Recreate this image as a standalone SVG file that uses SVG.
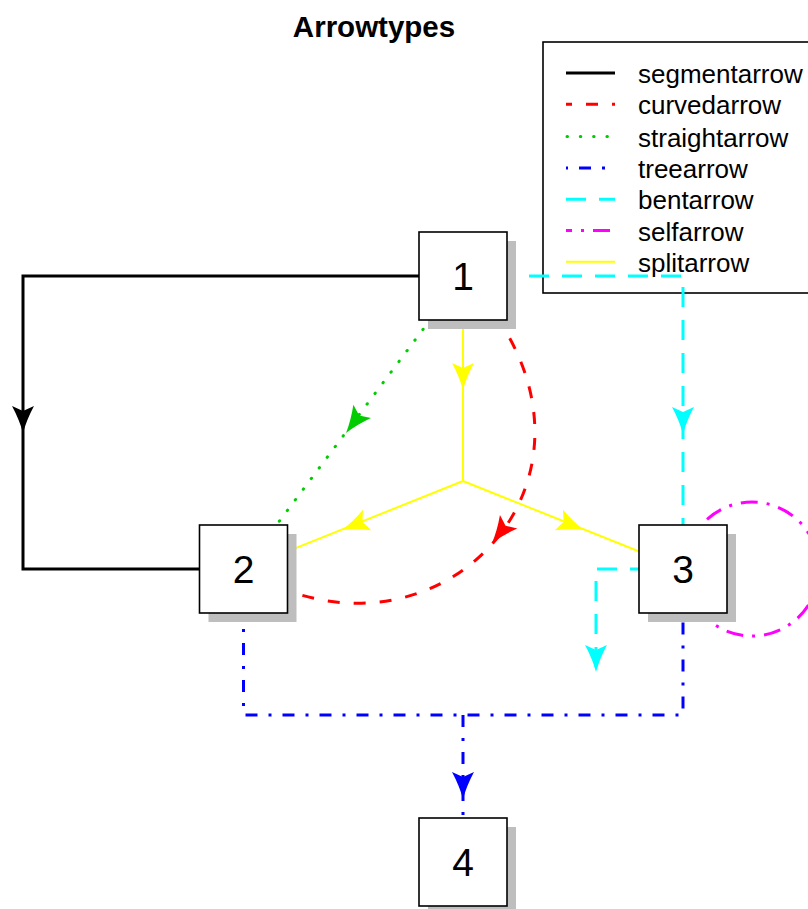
<svg xmlns="http://www.w3.org/2000/svg" xmlns:xlink="http://www.w3.org/1999/xlink" width="808" height="909" viewBox="0 0 808 909">
<style>
  .title { font-family: "Liberation Sans", Arial, sans-serif; font-size: 29.5px; font-weight: bold; fill: #000; }
  .leg { font-family: "Liberation Sans", Arial, sans-serif; font-size: 26px; fill: #000; }
  .lab { font-family: "Liberation Sans", Arial, sans-serif; font-size: 39px; fill: #000; text-anchor: middle; }
  .box { fill: #fff; stroke: #000; stroke-width: 1.6; }
  .shadow { fill: #bebebe; stroke: none; }
  .c { fill: none; }
  .seg { stroke: #000; stroke-width: 3; }
  .curv { stroke: #ff0000; stroke-width: 3; stroke-dasharray: 12 14; }
  .str { stroke: #00cc00; stroke-width: 3; stroke-dasharray: 0.5 12.8; stroke-linecap: round; }
  .tree { stroke: #0000ff; stroke-width: 3; stroke-dasharray: 12 11 3 11; }
  .bent { stroke: #00ffff; stroke-width: 3; stroke-dasharray: 20 13; }
  .self { stroke: #ff00ff; stroke-width: 3; stroke-dasharray: 17 9 3 9; }
  .split { stroke: #ffff00; stroke-width: 2; }
</style>
<defs>
  <path id="ah" d="M0,0 Q-13,-3.5 -27,-11 L-22,0 L-27,11 Q-13,3.5 0,0 Z"/>
</defs>

<text class="title" x="374" y="37" text-anchor="middle">Arrowtypes</text>

<g id="legend">
  <rect x="543" y="42" width="280" height="251" fill="#fff" stroke="#000" stroke-width="1.6"/>
  <line class="c seg" x1="566" y1="73" x2="615" y2="73"/>
  <line class="c curv" x1="566" y1="104.3" x2="615" y2="104.3" stroke-dashoffset="6"/>
  <line class="c str" x1="567" y1="136.6" x2="615" y2="136.6"/>
  <line class="c tree" x1="566" y1="167.9" x2="615" y2="167.9" stroke-dashoffset="24"/>
  <line class="c bent" x1="566" y1="199.2" x2="615" y2="199.2"/>
  <line class="c self" x1="566" y1="230.5" x2="615" y2="230.5" stroke-dashoffset="11"/>
  <line class="c split" x1="566" y1="261.8" x2="615" y2="261.8"/>
  <text class="leg" x="638" y="83">segmentarrow</text>
  <text class="leg" x="638" y="114.3">curvedarrow</text>
  <text class="leg" x="638" y="146.6">straightarrow</text>
  <text class="leg" x="638" y="177.9">treearrow</text>
  <text class="leg" x="638" y="209.2">bentarrow</text>
  <text class="leg" x="638" y="240.5">selfarrow</text>
  <text class="leg" x="638" y="271.8">splitarrow</text>
</g>

<g id="connectors">
  <!-- segmentarrow -->
  <path class="c seg" d="M463,276 H23 V569 H243.5"/>
  <use xlink:href="#ah" fill="#000" transform="translate(23,433) rotate(90)"/>
  <!-- curvedarrow -->
  <path class="c curv" d="M463,276 C648,466 440,690 243.5,569"/>
  <use xlink:href="#ah" fill="#ff0000" transform="translate(492,543) rotate(128)"/>
  <!-- straightarrow -->
  <path class="c str" d="M463,276 L243.5,569"/>
  <use xlink:href="#ah" fill="#00cc00" transform="translate(346,433) rotate(126.8)"/>
  <!-- treearrow -->
  <path class="c tree" d="M243.5,569 V715 H683 V569"/>
  <path class="c tree" d="M463,715 V862"/>
  <use xlink:href="#ah" fill="#0000ff" transform="translate(463,799) rotate(90)"/>
  <!-- bentarrow -->
  <path class="c bent" d="M463,276 H683 V569"/>
  <use xlink:href="#ah" fill="#00ffff" transform="translate(683,434) rotate(90)"/>
  <path class="c bent" d="M683,569 H596 V672"/>
  <use xlink:href="#ah" fill="#00ffff" transform="translate(596,672) rotate(90)"/>
  <!-- selfarrow -->
  <circle class="c self" cx="752" cy="569" r="67"/>
  <!-- splitarrow -->
  <path class="c split" d="M463,276 V481 L243.5,569"/>
  <path class="c split" d="M463,481 L683,569"/>
  <use xlink:href="#ah" fill="#ffff00" transform="translate(463,390) rotate(90)"/>
  <use xlink:href="#ah" fill="#ffff00" transform="translate(342,530) rotate(158.2)"/>
  <use xlink:href="#ah" fill="#ffff00" transform="translate(584,530) rotate(21.8)"/>
</g>

<g id="node1">
  <rect class="shadow" x="428" y="241" width="88" height="88"/>
  <rect class="box" x="419" y="232" width="88" height="88"/>
  <text class="lab" x="463" y="290">1</text>
</g>
<g id="node2">
  <rect class="shadow" x="208.5" y="534" width="88" height="88"/>
  <rect class="box" x="199.5" y="525" width="88" height="88"/>
  <text class="lab" x="243.5" y="583">2</text>
</g>
<g id="node3">
  <rect class="shadow" x="648" y="534" width="88" height="88"/>
  <rect class="box" x="639" y="525" width="88" height="88"/>
  <text class="lab" x="683" y="583">3</text>
</g>
<g id="node4">
  <rect class="shadow" x="428" y="827" width="88" height="88"/>
  <rect class="box" x="419" y="818" width="88" height="88"/>
  <text class="lab" x="463" y="876">4</text>
</g>
</svg>
